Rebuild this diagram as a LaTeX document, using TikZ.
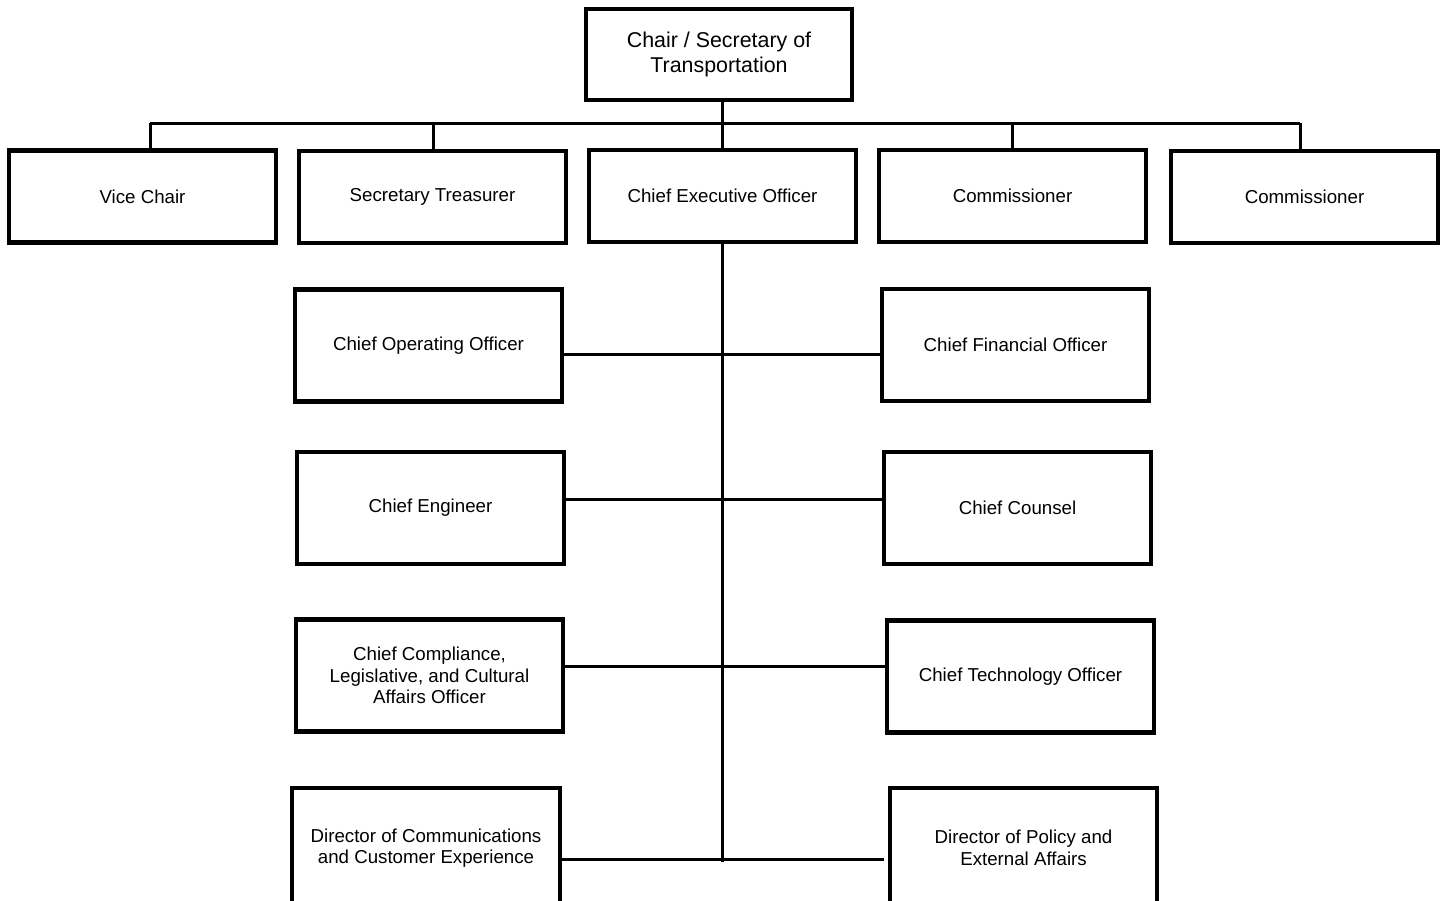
\documentclass[tikz,border=0pt]{standalone}
\usepackage{fontspec}
\setmainfont{Liberation Sans}
\begin{document}
\begin{tikzpicture}[x=1pt,y=-1pt,
  box/.style={draw=black, line width=4.5pt, fill=white, minimum width=267pt, minimum height=92pt,
    inner sep=0pt, align=center, font=\fontsize{18.7}{21.5}\selectfont},
  tallbox/.style={box, minimum height=112pt},
  conn/.style={draw=black, line width=3pt}]
\useasboundingbox (0,0) rectangle (1445,901);
\clip (0,0) rectangle (1445,901);
% nodes
\node[box, minimum width=266pt, minimum height=91pt, font=\fontsize{21.4}{25}\selectfont] (chair) at (719,54.5) {Chair / Secretary of\\Transportation};
\node[box] (vice) at (142.5,196.5) {Vice Chair};
\node[box] (sect) at (432.5,197) {Secretary Treasurer};
\node[box] (ceo) at (722.5,196) {Chief Executive Officer};
\node[box] (com1) at (1012.5,196) {Commissioner};
\node[box] (com2) at (1304.5,197) {Commissioner};
\node[tallbox] (coo) at (428.5,345.5) {Chief Operating Officer};
\node[tallbox] (cfo) at (1015.5,345) {Chief Financial Officer};
\node[tallbox] (eng) at (430.5,508) {Chief Engineer};
\node[tallbox] (counsel) at (1017.5,508) {Chief Counsel};
\node[tallbox] (compl) at (429.5,675.5) {Chief Compliance,\\Legislative, and Cultural\\Affairs Officer};
\node[tallbox] (cto) at (1020.5,676.5) {Chief Technology Officer};
\node[box, minimum width=268pt, minimum height=120pt] (dcomm) at (426,848) {Director of Communications\\and Customer Experience};
\node[box, minimum height=120pt] (dpol) at (1023.5,848) {Director of Policy and\\External Affairs};
% coordinates
\coordinate (dv) at (150,123.5);
\coordinate (ds) at (433.5,123.5);
\coordinate (dc1) at (1012,123.5);
\coordinate (dc2) at (1300,123.5);
\coordinate (trunk) at (722.5,862);
\coordinate (r1) at (0,354);
\coordinate (r2) at (0,499);
\coordinate (r3) at (0,666);
\coordinate (r4) at (0,859);
\coordinate (r4end) at (884,859);
% connectors
\draw[conn] (ceo.north) -- (ceo.north |- chair.south);
\draw[conn] (dv) -- (dc2);
\draw[conn] (dv) -- (dv |- vice.north);
\draw[conn] (ds) -- (ds |- sect.north);
\draw[conn] (dc1) -- (dc1 |- com1.north);
\draw[conn] (dc2) -- (dc2 |- com2.north);
\draw[conn] (ceo.south) -- (trunk);
\draw[conn] (coo.east |- r1) -- (cfo.west |- r1);
\draw[conn] (eng.east |- r2) -- (counsel.west |- r2);
\draw[conn] (compl.east |- r3) -- (cto.west |- r3);
\draw[conn] (dcomm.east |- r4) -- (r4end);
\end{tikzpicture}
\end{document}
